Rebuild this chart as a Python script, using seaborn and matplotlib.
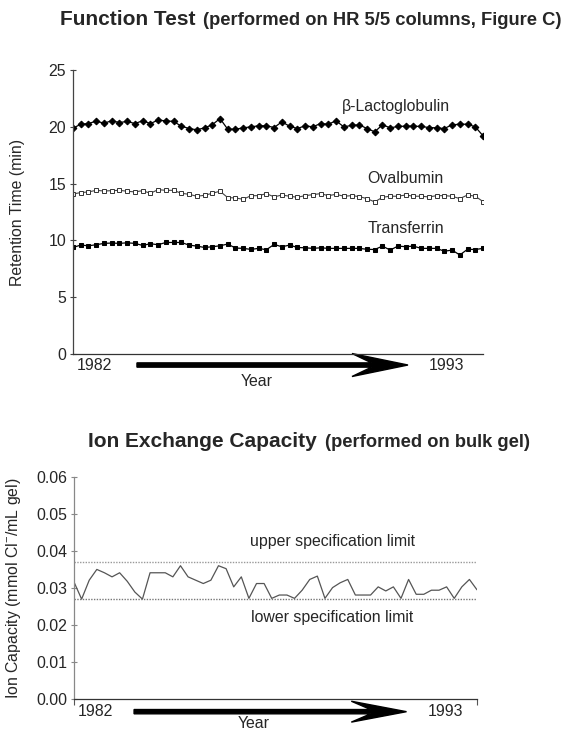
import numpy as np
import pandas as pd
import seaborn as sns
import matplotlib.pyplot as plt

# retention times (54 runs, 1982-1993)
beta_lactoglobulin = [19.88, 20.23, 20.29, 20.50, 20.32, 20.53, 20.38, 20.47, 20.29, 20.53,
                      20.29, 20.59, 20.53, 20.47, 20.06, 19.85, 19.74, 19.91, 20.18, 20.73,
                      19.79, 19.79, 19.91, 20.00, 20.09, 20.09, 19.94, 20.44, 20.05, 19.85,
                      20.09, 20.00, 20.29, 20.23, 20.53, 20.00, 20.12, 20.18, 19.85, 19.56,
                      20.18, 19.91, 20.03, 20.06, 20.06, 20.03, 19.94, 19.91, 19.85, 20.18,
                      20.23, 20.23, 20.00, 19.21]
ovalbumin = [14.09, 14.21, 14.27, 14.41, 14.35, 14.38, 14.41, 14.33, 14.27, 14.38,
             14.15, 14.47, 14.41, 14.41, 14.15, 14.06, 13.89, 13.97, 14.15, 14.33,
             13.77, 13.74, 13.62, 13.94, 13.94, 14.12, 13.83, 14.00, 13.89, 13.80,
             13.94, 14.03, 14.12, 13.94, 14.06, 13.89, 13.94, 13.86, 13.68, 13.39,
             13.80, 13.89, 13.89, 14.00, 13.89, 13.89, 13.83, 13.94, 13.94, 13.89,
             13.68, 14.00, 13.89, 13.42]
transferrin = [9.38, 9.59, 9.53, 9.62, 9.74, 9.77, 9.74, 9.79, 9.74, 9.56,
               9.71, 9.62, 9.82, 9.82, 9.82, 9.59, 9.50, 9.38, 9.44, 9.53,
               9.68, 9.33, 9.30, 9.21, 9.30, 9.18, 9.65, 9.44, 9.59, 9.38,
               9.35, 9.30, 9.35, 9.30, 9.30, 9.30, 9.30, 9.30, 9.22, 9.20,
               9.50, 9.15, 9.50, 9.45, 9.50, 9.30, 9.30, 9.30, 9.05, 9.15,
               8.72, 9.22, 9.20, 9.30]

# ion exchange capacity (mmol Cl-/mL gel) on bulk gel batches
ion_capacity = [0.0316, 0.0270, 0.0321, 0.0350, 0.0341, 0.0330, 0.0341, 0.0318, 0.0289, 0.0270,
                0.0341, 0.0341, 0.0341, 0.0330, 0.0360, 0.0330, 0.0321, 0.0312, 0.0321, 0.0360,
                0.0352, 0.0303, 0.0330, 0.0272, 0.0312, 0.0312, 0.0272, 0.0281, 0.0281, 0.0272,
                0.0294, 0.0323, 0.0332, 0.0272, 0.0301, 0.0314, 0.0323, 0.0281, 0.0281, 0.0281,
                0.0303, 0.0292, 0.0303, 0.0272, 0.0323, 0.0283, 0.0283, 0.0294, 0.0294, 0.0303,
                0.0272, 0.0303, 0.0323, 0.0295]
upper_limit = 0.037
lower_limit = 0.027

year_labels = ['1982', '1993']
top_yticks = [0, 5, 10, 15, 20, 25]
bottom_yticks = [0.00, 0.01, 0.02, 0.03, 0.04, 0.05, 0.06]

run_top = np.arange(len(transferrin))
run_bottom = np.arange(len(ion_capacity))

sns.set_style('ticks')
plt.rcParams['font.family'] = ['Liberation Sans', 'DejaVu Sans']
plt.rcParams['mathtext.default'] = 'regular'

fig = plt.figure(figsize=(5.65, 7.31), dpi=100)
ax1 = fig.add_axes([0.1292, 0.5157, 0.7257, 0.3885])
ax2 = fig.add_axes([0.131, 0.0434, 0.7133, 0.3045])

FS = 11.4

# --- top: function test ---
df = pd.DataFrame({'run': run_top, 'beta': beta_lactoglobulin,
                   'oval': ovalbumin, 'trans': transferrin})
sns.lineplot(data=df, x='run', y='beta', ax=ax1, color='black', lw=0.9,
             marker='D', markersize=3.4, markerfacecolor='black', markeredgecolor='black')
sns.lineplot(data=df, x='run', y='oval', ax=ax1, color='#444444', lw=0.8,
             marker='s', markersize=3.4, markerfacecolor='white', markeredgecolor='#333333',
             markeredgewidth=0.7)
sns.lineplot(data=df, x='run', y='trans', ax=ax1, color='black', lw=0.9,
             marker='s', markersize=3.2, markerfacecolor='black', markeredgecolor='black')

ax1.text(41.7, 21.77, '\u03b2-Lactoglobulin', ha='center', va='center', fontsize=FS)
ax1.text(43.0, 15.49, 'Ovalbumin', ha='center', va='center', fontsize=FS)
ax1.text(43.0, 11.09, 'Transferrin', ha='center', va='center', fontsize=FS)

ax1.set_xlim(0, 53)
ax1.set_ylim(0, 25)
ax1.set_yticks(top_yticks)
ax1.set_xticks([])
ax1.set_xlabel('')
ax1.set_ylabel('Retention Time (min)', fontsize=FS)
ax1.yaxis.set_label_coords(-0.117, 0.5)

# --- bottom: ion exchange capacity ---
sns.lineplot(x=run_bottom, y=ion_capacity, ax=ax2, color='#555555', lw=0.9)
ax2.axhline(upper_limit, color='#999999', lw=1, ls=(0, (1, 1)))
ax2.axhline(lower_limit, color='#777777', lw=1, ls=(0, (1, 1)))
ax2.text(34.0, 0.0424, 'upper specification limit', ha='center', va='center', fontsize=FS)
ax2.text(34.0, 0.0221, 'lower specification limit', ha='center', va='center', fontsize=FS)

ax2.set_xlim(0, 53)
ax2.set_ylim(0, 0.06)
ax2.set_yticks(bottom_yticks)
ax2.set_yticklabels([f'{v:.2f}' for v in bottom_yticks])
ax2.set_xticks([0, 53])
ax2.set_xticklabels(['', ''])
ax2.set_xlabel('')
ax2.set_ylabel('Ion Capacity (mmol Cl$^{-}$/mL gel)', fontsize=FS)
ax2.yaxis.set_label_coords(-0.1266, 0.5)

for ax, ycol in [(ax1, '#444444'), (ax2, '#888888')]:
    sns.despine(ax=ax)
    ax.spines['left'].set_color(ycol)
    ax.spines['bottom'].set_color('#333333')
    ax.spines['left'].set_linewidth(0.9)
    ax.spines['bottom'].set_linewidth(0.9)
    ax.tick_params(axis='y', direction='inout', length=5, width=0.8, color=ycol,
                   labelsize=FS, pad=2.5)
    ax.tick_params(axis='x', direction='out', length=4, width=0.8, color='#555555')

# year labels and arrows below each x axis
for ax, y_lab, y_year, x_1993, ax_arrow in [
        (ax1, -0.0387, -0.095, 0.868, (0.156, 0.661, 0.0151, 0.081, 0.1366)),
        (ax2, -0.0557, -0.11, 0.878, (0.149, 0.676, 0.0193, 0.094, 0.137))]:
    ax.text(0.01, y_lab, year_labels[0], transform=ax.transAxes, ha='left', va='center',
            fontsize=FS)
    ax.text(x_1993, y_lab, year_labels[1], transform=ax.transAxes, ha='left', va='center',
            fontsize=FS)
    ax.text(0.447, y_year, 'Year', transform=ax.transAxes, ha='center', va='center',
            fontsize=FS)
    x0, dx, w, hw, hl = ax_arrow
    ax.arrow(x0, y_lab, dx, 0, width=w, head_width=hw, head_length=hl,
             length_includes_head=True, overhang=0.35, transform=ax.transAxes,
             color='black', clip_on=False)

# titles: bold heading plus smaller bold note
fig.text(0.1062, 0.9653, 'Function Test', fontsize=15, fontweight='bold', va='baseline')
fig.text(0.3593, 0.9653, '(performed on HR 5/5 columns, Figure C)', fontsize=13.2,
         fontweight='bold', va='baseline')
fig.text(0.1558, 0.3889, 'Ion Exchange Capacity', fontsize=15, fontweight='bold',
         va='baseline')
fig.text(0.5752, 0.3889, '(performed on bulk gel)', fontsize=13.2, fontweight='bold',
         va='baseline')

fig.savefig('out.png', dpi=100)
